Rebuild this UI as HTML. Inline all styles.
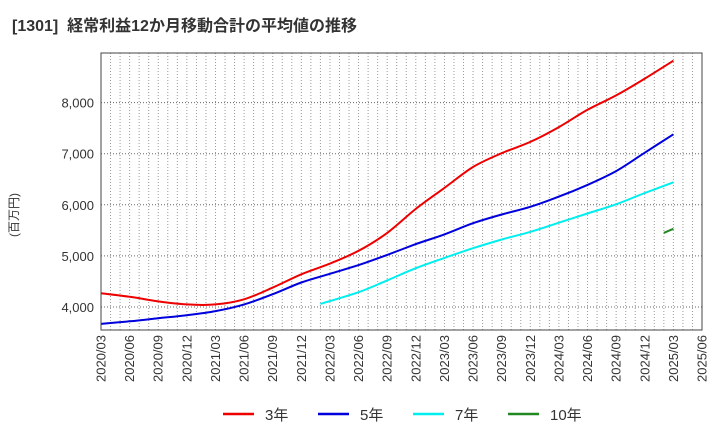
<!DOCTYPE html>
<html><head><meta charset="utf-8"><style>
body{margin:0;background:#fff;font-family:"Liberation Sans","Noto Sans CJK JP",sans-serif}
svg{display:block}
</style></head><body>
<svg id="c" width="720" height="440" xmlns="http://www.w3.org/2000/svg">
<text x="12" y="31" font-size="16" font-weight="bold" fill="#333" font-family="Liberation Sans,Noto Sans CJK JP,sans-serif" xml:space="preserve">[1301]  経常利益12か月移動合計の平均値の推移</text>
<text transform="translate(18,215) rotate(-90)" text-anchor="middle" font-size="12" fill="#333" font-family="Liberation Sans,Noto Sans CJK JP,sans-serif">(百万円)</text>
<g id="grid"></g><g id="series"></g><g id="ax"></g>
<rect x="101" y="53" width="601" height="277" fill="none" stroke="#444" stroke-width="1"/>
<g id="legend"></g>
</svg>
<script>
const quarters=["2020/03","2020/06","2020/09","2020/12","2021/03","2021/06","2021/09","2021/12","2022/03","2022/06","2022/09","2022/12","2023/03","2023/06","2023/09","2023/12","2024/03","2024/06","2024/09","2024/12","2025/03"];
const tickLabels=["2020/03","2020/06","2020/09","2020/12","2021/03","2021/06","2021/09","2021/12","2022/03","2022/06","2022/09","2022/12","2023/03","2023/06","2023/09","2023/12","2024/03","2024/06","2024/09","2024/12","2025/03","2025/06"];
const yTicks=[4000,5000,6000,7000,8000];
const s3=[4270,4200,4110,4050,4050,4150,4380,4640,4850,5100,5450,5920,6330,6740,7010,7230,7520,7860,8140,8470,8820];
const s5=[3670,3720,3780,3840,3920,4050,4250,4480,4650,4820,5020,5230,5420,5640,5810,5960,6160,6390,6660,7020,7380];
const s7Months=["2022/02","2022/06","2022/09","2022/12","2023/03","2023/06","2023/09","2023/12","2024/03","2024/06","2024/09","2024/12","2025/03"];
const s7=[4060,4290,4520,4760,4960,5150,5320,5470,5650,5830,6010,6230,6440];
const s10Months=["2025/02","2025/03"];
const s10=[5450,5530];
const NS="http://www.w3.org/2000/svg";
const L=101,R=702,T=53,B=330;
function mi(lbl){const[a,b]=lbl.split("/").map(Number);return (a-2020)*12+(b-3);}
function xs(lbl){return L+mi(lbl)*(R-L)/63;}
function ys(v){return 307-(v-4000)*51.1/1000;}
function mk(t,a,p){const e=document.createElementNS(NS,t);for(const k in a)e.setAttribute(k,a[k]);(p||document.getElementById("c")).appendChild(e);return e;}
const grid=document.getElementById("grid"),ax=document.getElementById("ax"),ser=document.getElementById("series"),lg=document.getElementById("legend");
for(let m=1;m<63;m++){const x=L+m*(R-L)/63;
const g=mk("line",{x1:x,x2:x,y1:T,y2:B,stroke:"#999","stroke-dasharray":"1,2","stroke-width":1},grid);

}
yTicks.forEach(v=>{const y=ys(v);
const g=mk("line",{x1:L,x2:R,y1:y,y2:y,stroke:"#666","stroke-dasharray":"1,2","stroke-width":1},grid);


const t=mk("text",{x:94,y:y+5,"text-anchor":"end","font-size":13,fill:"#333"},ax);t.textContent=v.toLocaleString("en-US");

});
tickLabels.forEach(l=>{const x=xs(l);
const t=mk("text",{transform:`translate(${x+4.5},335) rotate(-90)`,"text-anchor":"end","font-size":13,fill:"#333"},ax);t.textContent=l;

});
function line(labels,vals,color,name){const pts=[];vals.forEach((v,i)=>{if(v!=null)pts.push([xs(labels[i]),ys(v)]);});
let d="M"+pts[0][0].toFixed(1)+","+pts[0][1].toFixed(1);
for(let i=0;i<pts.length-1;i++){const p0=pts[Math.max(0,i-1)],p1=pts[i],p2=pts[i+1],p3=pts[Math.min(pts.length-1,i+2)];
const c1=[p1[0]+(p2[0]-p0[0])/6,p1[1]+(p2[1]-p0[1])/6],c2=[p2[0]-(p3[0]-p1[0])/6,p2[1]-(p3[1]-p1[1])/6];
d+="C"+c1.map(n=>n.toFixed(1)).join(",")+" "+c2.map(n=>n.toFixed(1)).join(",")+" "+p2.map(n=>n.toFixed(1)).join(",");}
const p=mk("path",{d:d,fill:"none",stroke:color,"stroke-width":2,"stroke-linejoin":"round"},ser);

}
line(quarters,s3,"#ee0000","series-3y");
line(quarters,s5,"#0000dd","series-5y");
line(s7Months,s7,"#00eeee","series-7y");
line(s10Months,s10,"#228822","series-10y");
[["3年","#ee0000",223],["5年","#0000dd",318],["7年","#00eeee",413],["10年","#228822",508]].forEach(([n,c,x])=>{
const g=mk("g",{},lg);


mk("line",{x1:x,x2:x+31,y1:414,y2:414,stroke:c,"stroke-width":2.5},g);
const t=mk("text",{x:x+42,y:420,"font-size":15,fill:"#333"},g);t.textContent=n;});
</script>
</body></html>
